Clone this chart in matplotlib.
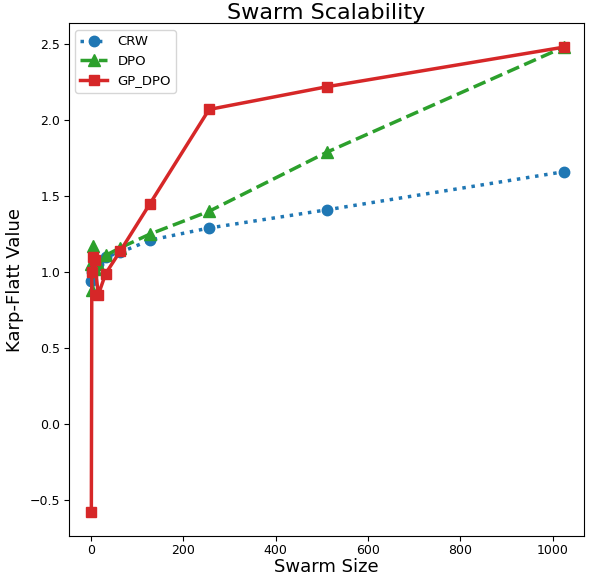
import matplotlib
matplotlib.use('Agg')
import matplotlib.pyplot as plt

# swarm sizes and Karp-Flatt values
swarm_sizes = [1, 2, 4, 8, 16, 32, 64, 128, 256, 512, 1024]
crw = [0.94, 1.00, 1.02, 1.05, 1.05, 1.10, 1.13, 1.21, 1.29, 1.41, 1.66]
dpo = [1.05, 0.88, 1.17, 1.02, 1.05, 1.11, 1.16, 1.25, 1.40, 1.79, 2.48]
gp_dpo = [-0.58, 1.00, 1.10, 1.08, 0.85, 0.99, 1.14, 1.45, 2.07, 2.22, 2.48]

fig = plt.figure(figsize=(5.91, 5.75), dpi=100)
ax = fig.add_axes([68.5 / 591, 1 - 535.7 / 575, (584 - 68.5) / 591, (535.7 - 23.3) / 575])

ax.plot(swarm_sizes, crw, linestyle=':', marker='o', color='#1f77b4',
        linewidth=2.5, markersize=7.5, label='CRW')
ax.plot(swarm_sizes, dpo, linestyle='--', marker='^', color='#2ca02c',
        linewidth=2.5, markersize=8, label='DPO')
ax.plot(swarm_sizes, gp_dpo, linestyle='-', marker='s', color='#d62728',
        linewidth=2.5, markersize=7.5, label='GP_DPO')

ax.set_xlim(-48.5, 1068)
ax.set_ylim(-0.735, 2.637)
ax.set_xticks([0, 200, 400, 600, 800, 1000])
ax.set_yticks([-0.5, 0.0, 0.5, 1.0, 1.5, 2.0, 2.5])
ax.tick_params(labelsize=9, pad=2.5)

ax.set_xlabel('Swarm Size', fontsize=13, labelpad=1)
ax.set_ylabel('Karp-Flatt Value', fontsize=13, labelpad=4)
ax.set_title('Swarm Scalability', fontsize=16, pad=3)
ax.legend(loc='upper left', fontsize=9.5)

fig.savefig('out.png', dpi=100)
plt.close(fig)
